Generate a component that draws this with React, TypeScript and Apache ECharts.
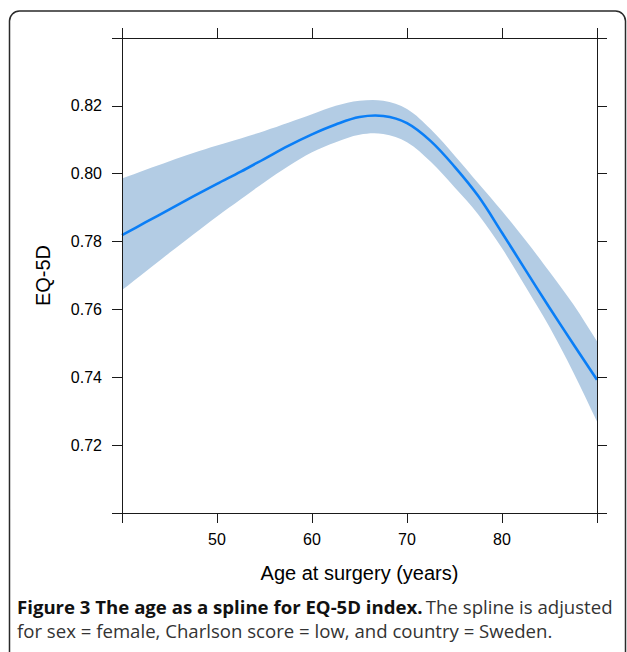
import React, { useEffect, useRef } from "react";
import * as echarts from "echarts";

// Age grid (years)
const ages = [40, 42.5, 45, 47.5, 50, 52.5, 55, 57.5, 60, 62.5, 65, 67.5, 70, 72.5, 75, 77.5, 80, 82.5, 85, 87.5, 90];
// Spline estimate of EQ-5D index
const fit = [0.7819, 0.7857, 0.7895, 0.7933, 0.797, 0.8006, 0.8044, 0.8082, 0.8116, 0.8145, 0.8167, 0.817, 0.8149, 0.8096, 0.8021, 0.7934, 0.7826, 0.7715, 0.7605, 0.7498, 0.7393];
// 95% confidence band
const upper = [0.7986, 0.8012, 0.8037, 0.8061, 0.8083, 0.8104, 0.8126, 0.815, 0.8175, 0.82, 0.8215, 0.8215, 0.8191, 0.8131, 0.8054, 0.7972, 0.789, 0.7803, 0.7711, 0.7615, 0.7506];
const lower = [0.7657, 0.7712, 0.7767, 0.7821, 0.7874, 0.7925, 0.7975, 0.8022, 0.8063, 0.8093, 0.8115, 0.8117, 0.8093, 0.8035, 0.796, 0.788, 0.778, 0.7666, 0.7548, 0.7415, 0.727];

// Tick labels
const xLabels = [50, 60, 70, 80];
const yLabels = [0.72, 0.74, 0.76, 0.78, 0.8, 0.82];

const AXIS_COLOR = "#1a1a1a";
const BAND_COLOR = "#b3cce4";
const LINE_COLOR = "#0a7ef6";
const LABEL_FONT = "'Liberation Sans', Arial, sans-serif";
const CAPTION_FONT = "'Open Sans', 'Noto Sans', sans-serif";
const SMOOTH = 0.35;

export default function App() {
  const ref = useRef<HTMLDivElement>(null);

  useEffect(() => {
    if (!ref.current) return;
    const chart = echarts.init(ref.current, null, { renderer: "svg" });

    const xLabelFmt = (v: number) => (xLabels.some((t) => Math.abs(t - v) < 1e-6) ? String(v) : "");
    const yLabelFmt = (v: number) => (yLabels.some((t) => Math.abs(t - v) < 1e-6) ? v.toFixed(2) : "");

    const axisCommon = {
      z: 10,
      axisLine: { show: true, onZero: false, lineStyle: { color: AXIS_COLOR, width: 1 } },
      axisTick: { show: true, inside: false, length: 10, lineStyle: { color: AXIS_COLOR, width: 1 } },
      splitLine: { show: false },
    };

    const bandRender = (params: any, api: any) => {
      if (params.dataIndex !== 0) return null;
      const top = ages.map((a, i) => api.coord([a, upper[i]]));
      const bot = ages.map((a, i) => api.coord([a, lower[i]])).reverse();
      const n = top.length;
      // duplicated corner points keep the end edges straight
      const pts = [top[0], ...top, top[n - 1], bot[0], ...bot, bot[n - 1]];
      return {
        type: "polygon",
        shape: { points: pts, smooth: SMOOTH },
        style: { fill: BAND_COLOR, stroke: "none" },
        silent: true,
      };
    };

    const fitRender = (params: any, api: any) => {
      if (params.dataIndex !== 0) return null;
      const pts = ages.map((a, i) => api.coord([a, fit[i]]));
      return {
        type: "polyline",
        shape: { points: pts, smooth: SMOOTH },
        style: { fill: "none", stroke: LINE_COLOR, lineWidth: 2.6, lineJoin: "round" },
        silent: true,
      };
    };

    const option: any = {
      animation: false,
      backgroundColor: "#ffffff",
      grid: { left: 122, right: 30, top: 38, bottom: 139, containLabel: false },
      xAxis: [
        {
          type: "value",
          position: "bottom",
          min: 40,
          max: 90,
          interval: 10,
          ...axisCommon,
          axisLabel: {
            show: true,
            margin: 18,
            formatter: xLabelFmt,
            color: "#000",
            fontSize: 16,
            fontFamily: LABEL_FONT,
          },
          name: "Age at surgery (years)",
          nameLocation: "middle",
          nameGap: 50,
          nameTextStyle: { color: "#000", fontSize: 20, fontFamily: LABEL_FONT },
        },
        {
          type: "value",
          position: "top",
          min: 40,
          max: 90,
          interval: 10,
          ...axisCommon,
          axisLabel: { show: false },
        },
      ],
      yAxis: [
        {
          type: "value",
          position: "left",
          min: 0.7,
          max: 0.84,
          interval: 0.02,
          ...axisCommon,
          axisLabel: {
            show: true,
            margin: 20,
            formatter: yLabelFmt,
            color: "#000",
            fontSize: 16,
            fontFamily: LABEL_FONT,
          },
          name: "EQ-5D",
          nameLocation: "middle",
          nameGap: 69,
          nameRotate: 90,
          nameTextStyle: { color: "#000", fontSize: 20, fontFamily: LABEL_FONT },
        },
        {
          type: "value",
          position: "right",
          min: 0.7,
          max: 0.84,
          interval: 0.02,
          ...axisCommon,
          axisLabel: { show: false },
        },
      ],
      series: [
        {
          name: "95% CI",
          type: "custom",
          renderItem: bandRender,
          encode: { x: 0, y: [1, 2] },
          data: ages.map((a, i) => [a, lower[i], upper[i]]),
          z: 2,
        },
        {
          name: "Spline",
          type: "custom",
          renderItem: fitRender,
          encode: { x: 0, y: 1 },
          data: ages.map((a, i) => [a, fit[i]]),
          z: 5,
        },
      ],
      graphic: [
        {
          type: "rect",
          shape: { x: 9.5, y: 11, width: 616, height: 720, r: 10 },
          style: { fill: "none", stroke: "#2a2a2a", lineWidth: 1.5 },
          silent: true,
        },
        {
          type: "text",
          x: 17,
          y: 597,
          style: {
            text: "{b|Figure 3 The age as a spline for EQ-5D index.} {r|The spline is adjusted}",
            rich: {
              b: { fontFamily: CAPTION_FONT, fontWeight: "bold", fontSize: 18.6, fill: "#111" },
              r: { fontFamily: CAPTION_FONT, fontSize: 18.6, fill: "#333" },
            },
          },
        },
        {
          type: "text",
          x: 17,
          y: 621,
          style: {
            text: "for sex = female, Charlson score = low, and country = Sweden.",
            fontFamily: CAPTION_FONT,
            fontSize: 18.6,
            fill: "#333",
          },
        },
      ],
    };

    chart.setOption(option);
    return () => chart.dispose();
  }, []);

  return (
    <div
      ref={ref}
      style={{ position: "fixed", left: 0, top: 0, width: 627, height: 652, background: "#fff" }}
    />
  );
}
